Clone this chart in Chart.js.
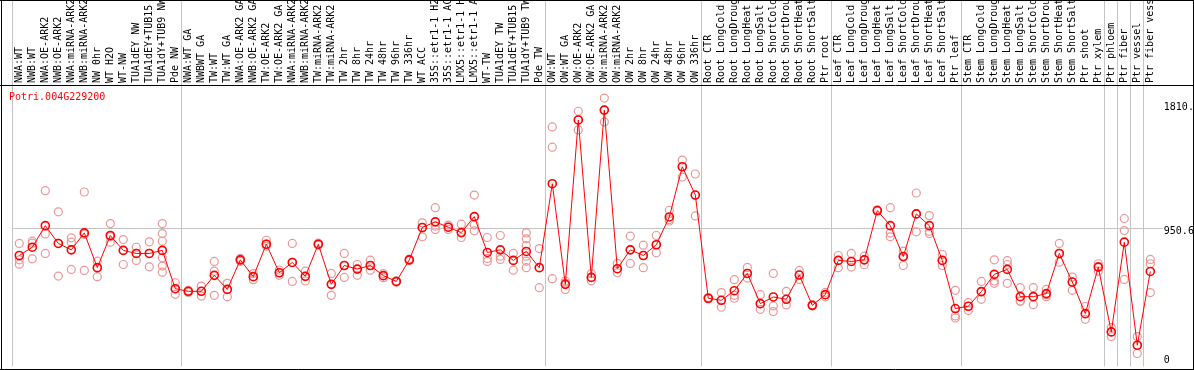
<!DOCTYPE html>
<html>
<head>
<meta charset="utf-8">
<script src="https://cdn.jsdelivr.net/npm/chart.js@4"></script>
<style>
  html, body { margin: 0; background: #fff; overflow: hidden; }
  .wrap { width: 1194px; height: 370px; overflow: hidden; }
  canvas { display: block; }
</style>
</head>
<body>
<div class="wrap">
<canvas id="expr-chart" width="1194" height="372"></canvas>
</div>
<script>
// Expression profile for one gene across samples
const geneName = 'Potri.004G229200';

const samples = [
  'NWA:WT', 'NWB:WT', 'NWA:OE-ARK2', 'NWB:OE-ARK2', 'NWA:miRNA-ARK2', 'NWB:miRNA-ARK2',
  'NW 0hr', 'WT H2O', 'WT-NW', 'TUA1dEY NW', 'TUA1dEY+TUB15 NW', 'TUA1dY+TUB9 NW', 'Pde NW',
  'NWA:WT GA', 'NWBWT GA', 'TW:WT', 'TW:WT GA', 'NWA:OE-ARK2 GA', 'NWB:OE-ARK2 GA',
  'TW:OE-ARK2', 'TW:OE-ARK2 GA', 'NWA:miRNA-ARK2 GA', 'NWB:miRNA-ARK2 GA', 'TW:miRNA-ARK2',
  'TW:miRNA-ARK2 GA', 'TW 2hr', 'TW 8hr', 'TW 24hr', 'TW 48hr', 'TW 96hr', 'TW 336hr',
  'WT ACC', '35S::etr1-1 H2O', '35S::etr1-1 ACC', 'LMX5::etr1-1 H2O', 'LMX5::etr1-1 ACC',
  'WT-TW', 'TUA1dEY TW', 'TUA1dEY+TUB15 TW', 'TUA1dY+TUB9 TW', 'Pde TW',
  'OW:WT', 'OW:WT GA', 'OW:OE-ARK2', 'OW:OE-ARK2 GA', 'OW:miRNA-ARK2', 'OW:miRNA-ARK2 GA',
  'OW 2hr', 'OW 8hr', 'OW 24hr', 'OW 48hr', 'OW 96hr', 'OW 336hr',
  'Root CTR', 'Root LongCold', 'Root LongDrought', 'Root LongHeat', 'Root LongSalt',
  'Root ShortCold', 'Root ShortDrought', 'Root ShortHeat', 'Root ShortSalt', 'Ptr root',
  'Leaf CTR', 'Leaf LongCold', 'Leaf LongDrought', 'Leaf LongHeat', 'Leaf LongSalt',
  'Leaf ShortCold', 'Leaf ShortDrought', 'Leaf ShortHeat', 'Leaf ShortSalt', 'Ptr leaf',
  'Stem CTR', 'Stem LongCold', 'Stem LongDrought', 'Stem LongHeat', 'Stem LongSalt',
  'Stem ShortCold', 'Stem ShortDrought', 'Stem ShortHeat', 'Stem ShortSalt', 'Ptr shoot',
  'Ptr xylem', 'Ptr phloem', 'Ptr fiber', 'Ptr vessel', 'Ptr fiber vessel'
];

const meanValues = [
  765, 822, 971, 848, 804, 921, 681, 903, 800, 779, 779, 800, 536,
  518, 518, 628, 531, 735, 619, 843, 646, 717, 621, 843, 566, 696, 671, 696, 626, 586, 735,
  958, 997, 960, 923, 1033, 786, 804, 731, 793, 681,
  1260, 566, 1700, 614, 1768, 674, 804, 765, 839, 1031, 1377, 1182,
  470, 456, 522, 641, 433, 479, 463, 630, 421, 495,
  731, 724, 735, 1075, 971, 758, 1052, 971, 731, 399,
  415, 516, 635, 669, 481, 481, 502, 779, 582, 364, 685,
  238, 857, 146, 655
];

const replicateValues = [
  [848, 735, 705], [864, 850, 742], [1212, 914, 779], [1066, 848, 623], [887, 857, 669],
  [1203, 910, 662], [726, 681, 619], [985, 857, 895], [875, 800, 703], [822, 779, 731],
  [859, 779, 687], [985, 916, 864, 749, 692, 650], [577, 536, 497],
  [525, 518, 510], [554, 518, 485], [724, 657, 490], [573, 531, 481], [745, 735, 725],
  [640, 619, 598], [870, 830, 843], [665, 646, 628], [848, 717, 586], [657, 621, 589],
  [850, 843, 836], [641, 566, 490], [779, 696, 614], [703, 671, 628], [733, 696, 664],
  [640, 626, 612], [590, 586, 580], [740, 735, 730], [990, 958, 894], [1095, 967, 944],
  [975, 960, 945], [981, 923, 889], [1182, 976, 935], [889, 745, 724], [903, 760, 738],
  [779, 731, 664], [921, 880, 834, 760, 726, 681], [813, 681, 543],
  [1652, 1512, 605], [589, 575, 531], [1760, 1700, 1631], [640, 614, 590], [1851, 1768, 1686],
  [710, 674, 646], [898, 804, 710], [836, 765, 681], [903, 839, 784], [1077, 1013, 1003],
  [1423, 1377, 1306], [1327, 1182, 1038],
  [475, 470, 465], [509, 456, 408], [598, 490, 470], [683, 641, 609], [495, 433, 394],
  [641, 417, 378], [518, 463, 424], [662, 630, 600], [425, 421, 417], [510, 495, 480],
  [765, 731, 681], [779, 724, 685], [760, 735, 701], [1080, 1075, 1070], [1095, 921, 894],
  [795, 758, 696], [1196, 1052, 928], [1040, 932, 916], [772, 731, 696], [525, 348, 334],
  [440, 415, 385], [586, 516, 463], [735, 589, 573], [729, 703, 573], [543, 451, 449],
  [543, 481, 426], [531, 495, 481], [848, 779, 719], [616, 582, 525], [413, 364, 325],
  [708, 690, 657],
  [268, 238, 206], [1020, 937, 600], [206, 146, 89], [738, 708, 509]
];

// index of the first sample of each tissue block (88 = closing line)
const groupStarts = [0, 13, 41, 53, 63, 73, 84, 85, 86, 87, 88];

const yTickValues = [0, 950.6, 1810];
const yTickText = [['0', '', ''], ['', '950.6'], ['', '1810.']];

const MONO = "'DejaVu Sans Mono', 'Liberation Mono', monospace";
const GRID = '#c4c4c4';
const VIEW_H = 370;

// flatten replicate table into points keyed by sample name
const replicatePoints = [];
replicateValues.forEach((reps, i) => {
    reps.forEach(v => replicatePoints.push({ x: samples[i], y: v }));
});

// outer frame, header rule and gene name
const framePlugin = {
    id: 'frame',
    afterDraw(chart) {
        const ctx = chart.ctx;
        const area = chart.chartArea;
        const w = chart.width, h = VIEW_H;
        ctx.save();
        ctx.strokeStyle = '#000';
        ctx.lineWidth = 1;
        ctx.beginPath();
        ctx.moveTo(0, 0.5); ctx.lineTo(w, 0.5);
        ctx.moveTo(1.5, 0); ctx.lineTo(1.5, h);
        ctx.moveTo(w - 0.5, 0); ctx.lineTo(w - 0.5, h);
        ctx.moveTo(0, h - 0.5); ctx.lineTo(w, h - 0.5);
        ctx.moveTo(0, Math.round(area.top) + 0.5); ctx.lineTo(w, Math.round(area.top) + 0.5);
        ctx.stroke();

        ctx.fillStyle = '#ff0000';
        ctx.font = '10px ' + MONO;
        ctx.textBaseline = 'middle';
        ctx.textAlign = 'left';
        ctx.fillText(geneName, 9, 97);
        ctx.restore();
    }
};

new Chart(document.getElementById('expr-chart'), {
    type: 'line',
    data: {
        labels: samples,
        datasets: [{
            label: 'mean',
            data: meanValues,
            borderColor: '#ff0000',
            borderWidth: 1,
            pointRadius: 4,
            pointBorderWidth: 1.6,
            pointBorderColor: '#ff0000',
            pointBackgroundColor: 'rgba(255,255,255,0)',
            tension: 0
        }, {
            label: 'replicates',
            data: replicatePoints,
            showLine: false,
            pointRadius: 4,
            pointBorderWidth: 1.2,
            pointBorderColor: 'rgb(236,150,150)',
            pointBackgroundColor: 'rgba(255,255,255,0)'
        }]
    },
    options: {
        responsive: false,
        animation: false,
        layout: { padding: { left: 12.8, right: 0, top: 0, bottom: 2.7 } },
        plugins: {
            legend: { display: false },
            tooltip: { enabled: false },
            title: { display: false }
        },
        scales: {
            x: {
                type: 'category',
                position: 'top',
                offset: true,
                border: { display: false },
                grid: {
                    offset: true,
                    drawTicks: true,
                    tickLength: 85,
                    lineWidth: 1,
                    color: (ctx) => groupStarts.includes(ctx.index) ? GRID : 'rgba(0,0,0,0)'
                },
                ticks: {
                    autoSkip: false,
                    minRotation: 90,
                    maxRotation: 90,
                    padding: -83,
                    labelOffset: 12.5,
                    color: '#000',
                    font: { family: MONO, size: 10 }
                },
                afterFit: (scale) => {
                    scale.height = 85;
                    scale.paddingLeft = 0;
                    scale.paddingRight = 0;
                }
            },
            y: {
                position: 'right',
                min: 0,
                max: 1941,
                border: { display: false },
                grid: {
                    drawTicks: true,
                    tickLength: 6,
                    color: (ctx) => ctx.tick && ctx.tick.value === 950.6 ? GRID : 'rgba(0,0,0,0)'
                },
                afterBuildTicks: (scale) => {
                    scale.ticks = yTickValues.map(v => ({ value: v }));
                },
                ticks: {
                    padding: 1,
                    color: '#000',
                    font: { family: MONO, size: 10, lineHeight: 0.6 },
                    callback: (value) => yTickText[yTickValues.indexOf(value)]
                },
                afterFit: (scale) => {
                    scale.width = 37.2;
                    scale.paddingTop = 0;
                    scale.paddingBottom = 0;
                }
            }
        }
    },
    plugins: [framePlugin]
});
</script>
</body>
</html>
